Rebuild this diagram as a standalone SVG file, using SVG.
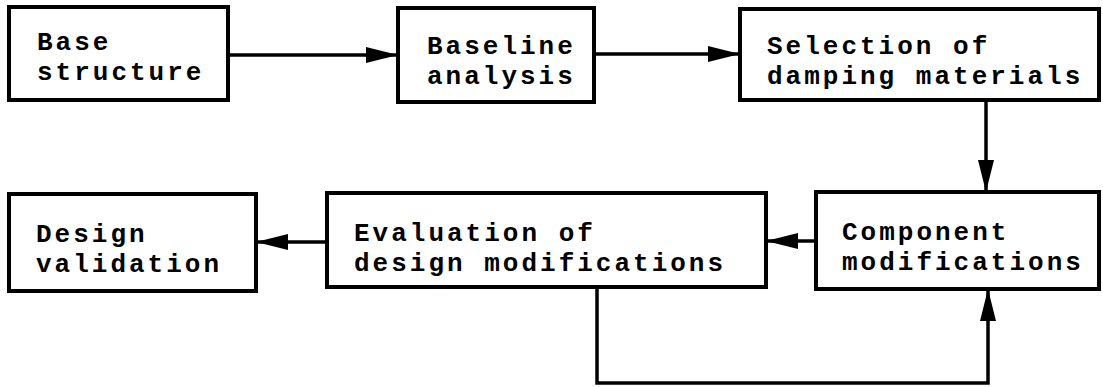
<svg xmlns="http://www.w3.org/2000/svg" width="1103" height="387" viewBox="0 0 1103 387">
  <style>
    .box { fill: #fff; stroke: #000; stroke-width: 4; }
    .lbl { font-family: "Liberation Mono", "Courier New", monospace; font-size: 26px; letter-spacing: 3px; font-weight: bold; fill: #000; }
    .wire { fill: none; stroke: #000; stroke-width: 3.5; }
  </style>
  <defs>
    <marker id="head" markerUnits="userSpaceOnUse" markerWidth="34" markerHeight="18" refX="32" refY="8" orient="auto">
      <path d="M0,0 L32,8 L0,16 Z" fill="#000"/>
    </marker>
  </defs>

  <g id="connectors">
    <line class="wire" x1="228" y1="55" x2="398" y2="55" marker-end="url(#head)"/>
    <line class="wire" x1="594" y1="54" x2="740" y2="54" marker-end="url(#head)"/>
    <line class="wire" x1="986" y1="100" x2="986" y2="192" marker-end="url(#head)"/>
    <line class="wire" x1="816" y1="241" x2="766" y2="241" marker-end="url(#head)"/>
    <line class="wire" x1="327" y1="242" x2="256" y2="242" marker-end="url(#head)"/>
    <polyline class="wire" points="597,287 597,383 988,383 988,289" marker-end="url(#head)"/>
  </g>

  <g id="base-structure">
    <rect class="box" x="9" y="7" width="219" height="93"/>
    <text class="lbl" x="37" y="50">Base</text>
    <text class="lbl" x="37" y="80">structure</text>
  </g>

  <g id="baseline-analysis">
    <rect class="box" x="398" y="8" width="196" height="94"/>
    <text class="lbl" x="427" y="54">Baseline</text>
    <text class="lbl" x="427" y="84">analysis</text>
  </g>

  <g id="selection-of-damping-materials">
    <rect class="box" x="740" y="9" width="359" height="91"/>
    <text class="lbl" x="767" y="54">Selection of</text>
    <text class="lbl" x="767" y="84">damping materials</text>
  </g>

  <g id="component-modifications">
    <rect class="box" x="816" y="192" width="283" height="97"/>
    <text class="lbl" x="842" y="240">Component</text>
    <text class="lbl" x="842" y="270">modifications</text>
  </g>

  <g id="evaluation-of-design-modifications">
    <rect class="box" x="327" y="193" width="439" height="94"/>
    <text class="lbl" x="354" y="241">Evaluation of</text>
    <text class="lbl" x="354" y="271">design modifications</text>
  </g>

  <g id="design-validation">
    <rect class="box" x="9" y="194" width="247" height="97"/>
    <text class="lbl" x="36" y="242">Design</text>
    <text class="lbl" x="36" y="272">validation</text>
  </g>
</svg>
